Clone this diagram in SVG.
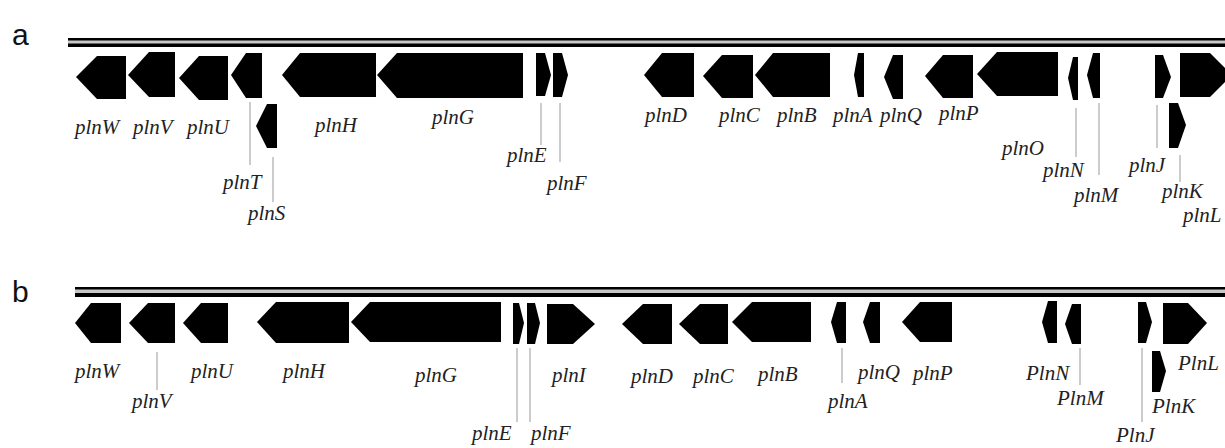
<svg xmlns="http://www.w3.org/2000/svg" width="1225" height="448" viewBox="0 0 1225 448">
<style>
.gene{fill:#000}
.lbl{font-family:"Liberation Serif","Times New Roman","DejaVu Serif",serif;font-style:italic;font-size:21px;fill:#222}
.panel{font-family:"Liberation Sans",Arial,sans-serif;font-size:30px;fill:#111}
.lead{stroke:#bbb;stroke-width:1.5;fill:none}
.bb{fill:#000}
.bg{fill:#c8c8c8}
</style>
<rect width="1225" height="448" fill="#fff"/>
<g id="panel-labels">
<text class="panel" x="12" y="45">a</text>
<text class="panel" x="12" y="302">b</text>
</g>
<g id="backbones">
<rect class="bb" x="68" y="38" width="1157" height="9"/>
<rect class="bg" x="68" y="40.5" width="1157" height="3"/>
<rect class="bb" x="75" y="287" width="1150" height="10"/>
<rect class="bg" x="75" y="289.5" width="1150" height="3.5"/>
</g>
<g id="connectors">
<line class="lead" x1="250" y1="102" x2="250" y2="165"/>
<line class="lead" x1="273" y1="157" x2="273" y2="202"/>
<line class="lead" x1="541" y1="103" x2="541" y2="145"/>
<line class="lead" x1="560" y1="103" x2="560" y2="162"/>
<line class="lead" x1="1076" y1="108" x2="1076" y2="157"/>
<line class="lead" x1="1099" y1="103" x2="1099" y2="175"/>
<line class="lead" x1="1157" y1="105" x2="1157" y2="148"/>
<line class="lead" x1="1180" y1="155" x2="1180" y2="182"/>
<line class="lead" x1="157" y1="352" x2="157" y2="390"/>
<line class="lead" x1="517" y1="348" x2="517" y2="422"/>
<line class="lead" x1="530" y1="348" x2="530" y2="422"/>
<line class="lead" x1="842" y1="348" x2="842" y2="383"/>
<line class="lead" x1="1080" y1="348" x2="1080" y2="385"/>
<line class="lead" x1="1142" y1="348" x2="1142" y2="422"/>
</g>
<g id="row-a">
<g id="a-plnW"><polygon class="gene" points="97,56 126,56 126,99 97,99 76,77"/><text class="lbl" x="75" y="134">plnW</text></g>
<g id="a-plnV"><polygon class="gene" points="149,52 175,52 175,97 149,97 128,75"/><text class="lbl" x="133" y="134">plnV</text></g>
<g id="a-plnU"><polygon class="gene" points="199,56 228,56 228,100 199,100 179,78"/><text class="lbl" x="187" y="134">plnU</text></g>
<g id="a-plnT"><polygon class="gene" points="246,53 262,53 262,98 246,98 231,75"/><text class="lbl" x="223" y="189">plnT</text></g>
<g id="a-plnS"><polygon class="gene" points="267,104 277,104 277,148 267,148 256,126"/><text class="lbl" x="248" y="220">plnS</text></g>
<g id="a-plnH"><polygon class="gene" points="300,53 376,53 376,97 300,97 282,75"/><text class="lbl" x="315" y="132">plnH</text></g>
<g id="a-plnG"><polygon class="gene" points="397,53 523,53 523,98 397,98 377,75"/><text class="lbl" x="432" y="124">plnG</text></g>
<g id="a-plnE"><polygon class="gene" points="536,53 545,53 551,75 545,96 536,96"/><text class="lbl" x="507" y="162">plnE</text></g>
<g id="a-plnF"><polygon class="gene" points="553,53 562,53 568,75 562,97 553,97"/><text class="lbl" x="547" y="190">plnF</text></g>
<g id="a-plnD"><polygon class="gene" points="662,53 694,53 694,97 662,97 644,75"/><text class="lbl" x="645" y="122">plnD</text></g>
<g id="a-plnC"><polygon class="gene" points="722,55 753,55 753,98 722,98 703,76"/><text class="lbl" x="719" y="122">plnC</text></g>
<g id="a-plnB"><polygon class="gene" points="773,53 830,53 830,97 773,97 755,75"/><text class="lbl" x="777" y="122">plnB</text></g>
<g id="a-plnA"><polygon class="gene" points="858,53 864,53 864,97 858,97 854,75"/><text class="lbl" x="833" y="122">plnA</text></g>
<g id="a-plnQ"><polygon class="gene" points="893,55 903,55 903,99 893,99 884,77"/><text class="lbl" x="880" y="122">plnQ</text></g>
<g id="a-plnP"><polygon class="gene" points="943,55 973,55 973,98 943,98 925,76"/><text class="lbl" x="939" y="120">plnP</text></g>
<g id="a-plnO"><polygon class="gene" points="997,52 1058,52 1058,96 997,96 977,74"/><text class="lbl" x="1002" y="155">plnO</text></g>
<g id="a-plnN"><polygon class="gene" points="1073,57 1078,57 1078,100 1073,100 1068,78"/><text class="lbl" x="1043" y="177">plnN</text></g>
<g id="a-plnM"><polygon class="gene" points="1093,53 1100,53 1100,98 1093,98 1087,75"/><text class="lbl" x="1074" y="202">plnM</text></g>
<g id="a-plnJ"><polygon class="gene" points="1155,55 1163,55 1171,77 1163,98 1155,98"/><text class="lbl" x="1129" y="172">plnJ</text></g>
<g id="a-plnK"><polygon class="gene" points="1169,103 1178,103 1186,125 1178,148 1169,148"/><text class="lbl" x="1162" y="198">plnK</text></g>
<g id="a-plnL"><polygon class="gene" points="1180,53 1210,53 1232,75 1210,97 1180,97"/><text class="lbl" x="1183" y="222">plnL</text></g>
</g>
<g id="row-b">
<g id="b-plnW"><polygon class="gene" points="91,303 121,303 121,343 91,343 75,323"/><text class="lbl" x="75" y="378">plnW</text></g>
<g id="b-plnV"><polygon class="gene" points="148,303 175,303 175,343 148,343 129,323"/><text class="lbl" x="132" y="408">plnV</text></g>
<g id="b-plnU"><polygon class="gene" points="201,303 228,303 228,343 201,343 183,323"/><text class="lbl" x="191" y="378">plnU</text></g>
<g id="b-plnH"><polygon class="gene" points="276,302 349,302 349,343 276,343 257,322"/><text class="lbl" x="283" y="378">plnH</text></g>
<g id="b-plnG"><polygon class="gene" points="370,302 501,302 501,342 370,342 351,322"/><text class="lbl" x="415" y="382">plnG</text></g>
<g id="b-plnE"><polygon class="gene" points="513,303 519,303 524,323 519,344 513,344"/><text class="lbl" x="472" y="440">plnE</text></g>
<g id="b-plnF"><polygon class="gene" points="527,303 535,303 540,323 535,344 527,344"/><text class="lbl" x="531" y="440">plnF</text></g>
<g id="b-plnI"><polygon class="gene" points="547,304 573,304 595,324 573,344 547,344"/><text class="lbl" x="552" y="382">plnI</text></g>
<g id="b-plnD"><polygon class="gene" points="643,304 672,304 672,344 643,344 622,324"/><text class="lbl" x="631" y="383">plnD</text></g>
<g id="b-plnC"><polygon class="gene" points="700,304 728,304 728,344 700,344 679,324"/><text class="lbl" x="693" y="383">plnC</text></g>
<g id="b-plnB"><polygon class="gene" points="752,302 811,302 811,342 752,342 732,322"/><text class="lbl" x="758" y="381">plnB</text></g>
<g id="b-plnA"><polygon class="gene" points="837,302 846,302 846,343 837,343 831,322"/><text class="lbl" x="828" y="408">plnA</text></g>
<g id="b-plnQ"><polygon class="gene" points="870,302 880,302 880,343 870,343 863,322"/><text class="lbl" x="858" y="379">plnQ</text></g>
<g id="b-plnP"><polygon class="gene" points="920,302 952,302 952,342 920,342 902,322"/><text class="lbl" x="913" y="380">plnP</text></g>
<g id="b-PlnN"><polygon class="gene" points="1048,301 1057,301 1057,343 1048,343 1042,322"/><text class="lbl" x="1026" y="380">PlnN</text></g>
<g id="b-PlnM"><polygon class="gene" points="1072,304 1081,304 1081,344 1072,344 1065,324"/><text class="lbl" x="1057" y="405">PlnM</text></g>
<g id="b-PlnJ"><polygon class="gene" points="1138,302 1146,302 1152,322 1146,343 1138,343"/><text class="lbl" x="1116" y="442">PlnJ</text></g>
<g id="b-PlnK"><polygon class="gene" points="1152,351 1160,351 1166,371 1160,392 1152,392"/><text class="lbl" x="1152" y="413">PlnK</text></g>
<g id="b-PlnL"><polygon class="gene" points="1163,303 1188,303 1207,323 1188,344 1163,344"/><text class="lbl" x="1178" y="370">PlnL</text></g>
</g>
</svg>
